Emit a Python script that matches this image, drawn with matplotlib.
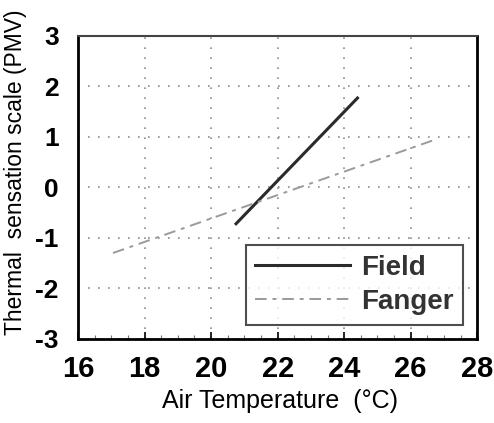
"""Thermal sensation vs air temperature: field fit against Fanger PMV."""

import matplotlib.pyplot as plt
from matplotlib.ticker import MultipleLocator

plt.rcParams["font.family"] = ["Liberation Sans", "DejaVu Sans"]
plt.rcParams["axes.unicode_minus"] = False

# regression lines (air temperature in degC, PMV)
field_temp = [20.75, 24.4]
field_pmv = [-0.72, 1.77]
fanger_temp = [17.05, 26.75]
fanger_pmv = [-1.3, 0.95]

x_ticks = [16, 18, 20, 22, 24, 26, 28]
y_ticks = [-3, -2, -1, 0, 1, 2, 3]

fig = plt.figure(figsize=(4.94, 4.23), dpi=100)
ax = fig.add_axes([0.158, 0.199, 0.808, 0.716])

ax.plot(field_temp, field_pmv, color="#2b2b2b", linewidth=2.2, label="Field")
ax.plot(fanger_temp, fanger_pmv, color="#9a9a9a", linewidth=1.4,
        linestyle=(0, (6, 3, 2, 3)), label="Fanger")

ax.set_xlim(16, 28)
ax.set_ylim(-3, 3)
ax.set_xticks(x_ticks)
ax.set_yticks(y_ticks)
ax.xaxis.set_minor_locator(MultipleLocator(0.5))
ax.grid(True, which="major", color="#8c8c8c", linestyle=(0, (1, 5)),
        linewidth=1.2)

ax.tick_params(axis="x", which="major", direction="in", length=5,
               labelsize=21, pad=12, width=1.2)
ax.tick_params(axis="x", which="minor", direction="in", length=3,
               width=0.8, color="#777777")
ax.tick_params(axis="y", direction="in", length=0, labelsize=19, pad=14)
for lab in ax.get_xticklabels() + ax.get_yticklabels():
    lab.set_fontweight("bold")

for side in ("left", "bottom", "right"):
    ax.spines[side].set_linewidth(2.0)
ax.spines["top"].set_linewidth(1.5)
ax.spines["top"].set_color("#444444")

ax.set_xlabel("Air Temperature  (°C)", fontsize=18)
ax.xaxis.set_label_coords(0.505, -0.165)
ax.set_ylabel("Thermal  sensation scale (PMV)", fontsize=16.5)
ax.yaxis.set_label_coords(-0.128, 0.55)

leg = ax.legend(loc="lower right", bbox_to_anchor=(0.965, 0.046),
                fontsize=20, frameon=True, fancybox=False, handlelength=3.4,
                handletextpad=0.4, borderpad=0.35, labelspacing=0.3,
                borderaxespad=0)
leg.get_frame().set_edgecolor("#222222")
leg.get_frame().set_linewidth(1.5)
for txt in leg.get_texts():
    txt.set_fontweight("bold")
    txt.set_color("#333333")

fig.savefig("out.png", dpi=100)
